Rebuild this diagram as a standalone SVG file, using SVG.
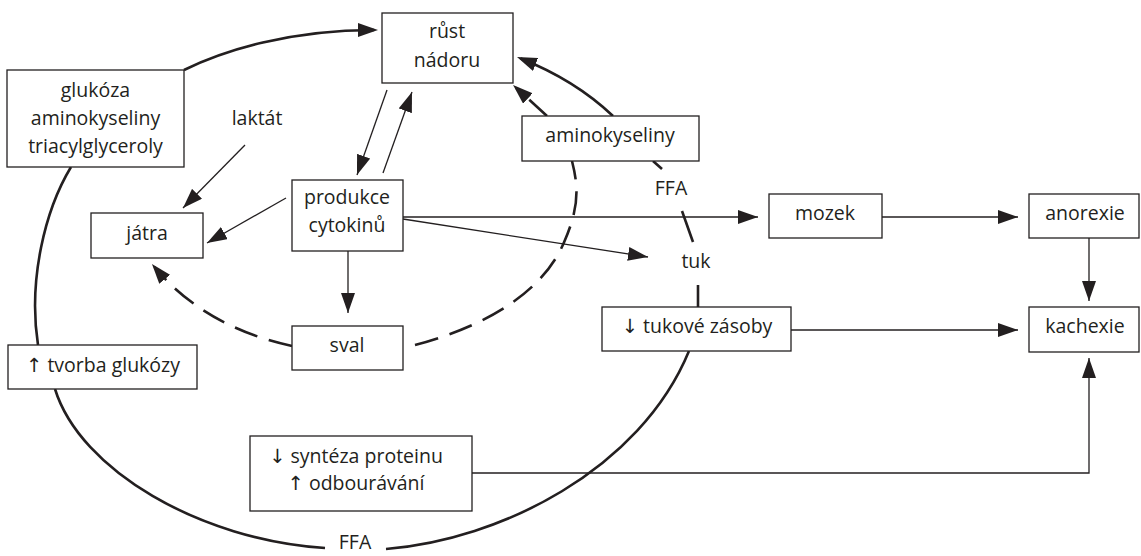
<svg xmlns="http://www.w3.org/2000/svg" width="1141" height="556" viewBox="0 0 1141 556">
<style>
.box{fill:#fff;stroke:#231f20;stroke-width:1.3}
.t{font-family:"Open Sans","Liberation Sans",sans-serif;font-size:19.5px;fill:#231f20;text-anchor:middle}
.ar{font-family:"DejaVu Sans","Liberation Sans",sans-serif;fill:#231f20}
.thin{fill:none;stroke:#231f20;stroke-width:1.3;marker-end:url(#ah)}
.thick{fill:none;stroke:#231f20;stroke-width:2.6}
.dash{fill:none;stroke:#231f20;stroke-width:2.6;stroke-dasharray:24 12}
.arr{marker-end:url(#ahk)}
</style>
<defs>
<marker id="ah" markerUnits="userSpaceOnUse" viewBox="0 0 20 14" refX="20" refY="7" markerWidth="20" markerHeight="14" orient="auto">
<path d="M0,0 L20,7 L0,14 z" fill="#231f20"/>
</marker>
<marker id="ahk" markerUnits="userSpaceOnUse" viewBox="0 0 20 14" refX="16" refY="7" markerWidth="20" markerHeight="14" orient="auto">
<path d="M0,0 L20,7 L0,14 z" fill="#231f20"/>
</marker>
</defs>
<rect width="1141" height="556" fill="#fff"/>
<g id="connectors">
<path class="thin" d="M245,145 L183,208"/>
<path class="thin" d="M286,198 L207,243"/>
<path class="thin" d="M387,90 L357,175"/>
<path class="thin" d="M383,173 L412,92"/>
<path class="thin" d="M348,251 L348,313"/>
<path class="thin" d="M403,217 L758,217"/>
<path class="thin" d="M403,219 L648,257"/>
<path class="thin" d="M882,217 L1018,217"/>
<path class="thin" d="M1089,238 L1089,301"/>
<path class="thin" d="M791,330 L1018,330"/>
<path class="thin" d="M472,473 L1089,473 L1089,358"/>
<path class="thick arr" d="M184,70 C225,50 290,30 374,30"/>
<path class="thick" d="M71,167 C45,210 28,280 38,345"/>
<path class="thick" d="M55,389 C80,470 200,540 325,548"/>
<path class="thick" d="M386,549 C500,540 640,470 689,351"/>
<path class="thick" d="M698,307 L698,285"/>
<path class="thick" d="M693,242 L682,211"/>
<path class="thick" d="M662,169 L653,161"/>
<path class="thick arr" d="M613,116 Q575,80 520.7,58.5"/>
<path class="dash" d="M415,345 C490,325 545,290 565,240 C580,205 578,185 572,161"/>
<path class="dash arr" d="M547,116 L516,87.7"/>
<path class="dash arr" d="M292,346 C240,335 190,310 154.5,267"/>
</g>
<g id="glukoza"><rect class="box" x="7" y="70" width="177" height="97"/>
<text class="t" x="95.5" y="97">glukóza</text><text class="t" x="95.5" y="125">aminokyseliny</text><text class="t" x="95.5" y="153">triacylglyceroly</text></g>
<g id="laktat"><text class="t" x="257" y="125">laktát</text></g>
<g id="rust-nadoru"><rect class="box" x="382" y="13" width="131" height="70"/>
<text class="t" x="447" y="38">růst</text><text class="t" x="447" y="67">nádoru</text></g>
<g id="aminokyseliny"><rect class="box" x="522" y="116" width="177" height="45"/>
<text class="t" x="610" y="142">aminokyseliny</text></g>
<g id="produkce-cytokinu"><rect class="box" x="292" y="180" width="111" height="71"/>
<text class="t" x="347" y="204">produkce</text><text class="t" x="347" y="232">cytokinů</text></g>
<g id="jatra"><rect class="box" x="91" y="213" width="112" height="45"/>
<text class="t" x="147" y="240">játra</text></g>
<g id="sval"><rect class="box" x="292" y="326" width="111" height="44"/>
<text class="t" x="347" y="352">sval</text></g>
<g id="tvorba-glukozy"><rect class="box" x="8" y="345" width="189" height="44"/>
<text class="t" x="103" y="372"><tspan class="ar">↑</tspan> tvorba glukózy</text></g>
<g id="synteza-proteinu"><rect class="box" x="250" y="436" width="222" height="75"/>
<text class="t" x="356" y="463"><tspan class="ar">↓</tspan> syntéza proteinu</text><text class="t" x="356" y="490"><tspan class="ar">↑</tspan> odbourávání</text></g>
<g id="tukove-zasoby"><rect class="box" x="602" y="307" width="189" height="44"/>
<text class="t" x="697" y="333"><tspan class="ar">↓</tspan> tukové zásoby</text></g>
<g id="mozek"><rect class="box" x="769" y="194" width="113" height="44"/>
<text class="t" x="825" y="220">mozek</text></g>
<g id="anorexie"><rect class="box" x="1029" y="194" width="110" height="44"/>
<text class="t" x="1085" y="220">anorexie</text></g>
<g id="kachexie"><rect class="box" x="1029" y="307" width="110" height="45"/>
<text class="t" x="1085" y="333">kachexie</text></g>
<g id="ffa-top"><text class="t" x="671" y="195">FFA</text></g>
<g id="tuk"><text class="t" x="696" y="268">tuk</text></g>
<g id="ffa-bottom"><text class="t" x="355" y="549">FFA</text></g>
</svg>
